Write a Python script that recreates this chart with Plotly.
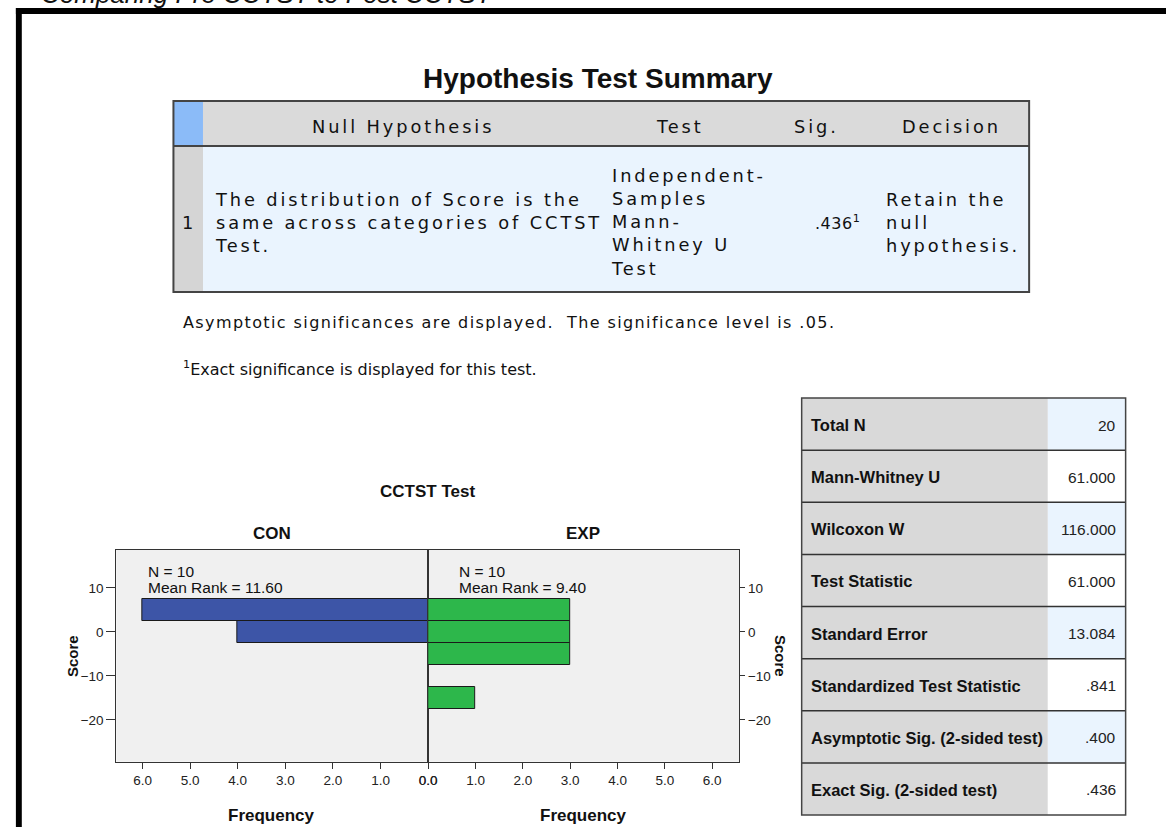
import plotly.graph_objects as go

W, H = 1175, 827

# ---------------- data ----------------
score_bins = [5, 0, -5, -10, -15]      # bin centres of Score
bin_width = 5
con_freq = [6, 4, 0, 0, 0]
exp_freq = [3, 3, 3, 0, 1]
groups = ["CON", "EXP"]
group_n = [10, 10]
group_mean_rank = [11.60, 9.40]
freq_ticks = [0, 1, 2, 3, 4, 5, 6]
score_ticks = [10, 0, -10, -20]

page_title = "Comparing Pre CCTST to Post CCTST"
hyp_title = "Hypothesis Test Summary"
hyp_headers = ["Null Hypothesis", "Test", "Sig.", "Decision"]
hyp_row_no = "1"
hyp_null = ["The distribution of Score is the", "same across categories of CCTST", "Test."]
hyp_test = ["Independent-", "Samples", "Mann-", "Whitney U", "Test"]
hyp_sig = ".436"
hyp_decision = ["Retain the", "null", "hypothesis."]
footnote_1 = "Asymptotic significances are displayed.  The significance level is .05."
footnote_2 = "Exact significance is displayed for this test."

stat_labels = ["Total N", "Mann-Whitney U", "Wilcoxon W", "Test Statistic",
               "Standard Error", "Standardized Test Statistic",
               "Asymptotic Sig. (2-sided test)", "Exact Sig. (2-sided test)"]
stat_values = ["20", "61.000", "116.000", "61.000", "13.084", ".841", ".400", ".436"]

# ---------------- helpers ----------------
def px(x):
    return x / W

def py(y):
    return 1 - y / H

PIX = "DejaVu Sans, Verdana, sans-serif"
ARIAL = "Liberation Sans, Arial, sans-serif"
TXT = "#111111"

def spaced(s, ls):
    return "<span style='letter-spacing:%spx'>%s</span>" % (ls, s)

annotations = []
shapes = []

def ann(text, x, y, size, family=ARIAL, xanchor="center", yanchor="middle",
        align="center", angle=0, color=TXT):
    annotations.append(dict(text=text, x=px(x), y=py(y), xref="paper", yref="paper",
                            showarrow=False, xanchor=xanchor, yanchor=yanchor,
                            align=align, textangle=angle,
                            font=dict(family=family, size=size, color=color)))

def rect(x0, y0, x1, y1, fill=None, line_color=None, lw=0):
    shapes.append(dict(type="rect", xref="paper", yref="paper",
                       x0=px(x0), x1=px(x1), y0=py(y1), y1=py(y0),
                       fillcolor=fill if fill else "rgba(0,0,0,0)",
                       line=dict(color=line_color if line_color else "rgba(0,0,0,0)", width=lw)))

def hline(x0, x1, y, color, lw):
    shapes.append(dict(type="line", xref="paper", yref="paper",
                       x0=px(x0), x1=px(x1), y0=py(y), y1=py(y),
                       line=dict(color=color, width=lw)))

# ---------------- page frame & title ----------------
rect(7, 8, 1175, 14, fill="black")
rect(7, 8, 13, 827, fill="black")
ann("<i>%s</i>" % page_title, 30, -6, 26, xanchor="left")

# ---------------- hypothesis table ----------------
ann("<b>%s</b>" % hyp_title, 598, 78, 28)
TL, TR, TT, THB, TB, NC = 167, 1036, 101, 146, 292, 197
rect(TL, TT, TR, THB, fill="#DADADA")
rect(TL, TT, NC, THB, fill="#8BBBF8")
rect(NC, THB, TR, TB, fill="#EAF4FE")
rect(TL, THB, NC, TB, fill="#D5D5D5")
hline(TL, TR, THB, "#444444", 2)
rect(TL, TT, TR, TB, line_color="#444444", lw=2)

LS = 2.9
FS = 17.8
header_x = [400, 681, 820, 957]
for h, hx in zip(hyp_headers, header_x):
    ann(spaced(h, LS), hx, 127, FS, family=PIX)

body_y = 222
ann(hyp_row_no, 181, body_y, FS, family=PIX)
ann("<br>".join(spaced(s, LS) for s in hyp_null), 207, body_y, FS, family=PIX,
    xanchor="left", align="left")
ann("<br>".join(spaced(s, LS) for s in hyp_test), 609, body_y, FS, family=PIX,
    xanchor="left", align="left")
ann(spaced(hyp_sig, 0.5) + "<sup>1</sup>", 866, body_y, FS * 0.9, family=PIX, xanchor="right")
ann("<br>".join(spaced(s, LS) for s in hyp_decision), 889, body_y, FS, family=PIX,
    xanchor="left", align="left")

ann(spaced(footnote_1, 1.4), 175, 323, 16, family=PIX, xanchor="left")
ann("<sup>1</sup>" + footnote_2, 175, 368, 16, family=PIX, xanchor="left")

# ---------------- statistics table ----------------
SL, SR, SM, ST, SB = 805, 1134, 1055, 398, 815
row_h = (SB - ST) / len(stat_labels)
for i, (lab, val) in enumerate(zip(stat_labels, stat_values)):
    y0 = ST + i * row_h
    y1 = y0 + row_h
    rect(SL, y0, SM, y1, fill="#D9D9D9")
    rect(SM, y0, SR, y1, fill="#EAF4FE" if i % 2 == 0 else "#FFFFFF")
for i in range(1, len(stat_labels)):
    hline(SL, SR, ST + i * row_h, "#333333", 1.5)
rect(SL, ST, SR, SB, line_color="#444444", lw=1.5)
for i, (lab, val) in enumerate(zip(stat_labels, stat_values)):
    yc = ST + (i + 0.5) * row_h + 1
    ann("<b>%s</b>" % lab, 812, yc, 16.5, xanchor="left")
    ann(val, 1126, yc, 15.5, xanchor="right", color="#222222")

# ---------------- population pyramid (histograms) ----------------
PL, PM, PR, PT, PB = 109, 425.7, 741.6, 550, 761.7

fig = go.Figure()
con_y = [b for b, f in zip(score_bins, con_freq) if f > 0]
con_x = [f for f in con_freq if f > 0]
exp_y = [b for b, f in zip(score_bins, exp_freq) if f > 0]
exp_x = [f for f in exp_freq if f > 0]
fig.add_trace(go.Bar(x=con_x, y=con_y, orientation="h", width=bin_width,
                     marker=dict(color="#3D55A7", line=dict(color="#1a1a1a", width=1)),
                     xaxis="x", yaxis="y", name=groups[0], showlegend=False,
                     hoverinfo="skip"))
fig.add_trace(go.Bar(x=exp_x, y=exp_y, orientation="h", width=bin_width,
                     marker=dict(color="#2DB74B", line=dict(color="#1a1a1a", width=1)),
                     xaxis="x2", yaxis="y2", name=groups[1], showlegend=False,
                     hoverinfo="skip"))

tickfont = dict(family=ARIAL, size=13.5, color="#222222")
xcommon = dict(tickvals=freq_ticks, ticktext=["%.1f" % t for t in freq_ticks],
               ticks="outside", ticklen=6, tickcolor="#333333", tickfont=tickfont,
               showline=True, linecolor="#333333", linewidth=1, mirror=True,
               showgrid=False, zeroline=False, fixedrange=True)
ycommon = dict(range=[-29.5, 18.6], tickvals=score_ticks, ticks="outside",
               tickcolor="#333333", tickfont=tickfont, showline=True,
               linecolor="#333333", linewidth=1, mirror=True,
               showgrid=False, zeroline=False, fixedrange=True,
               domain=[py(PB), py(PT)])

fig.update_layout(
    width=W, height=H, autosize=False,
    margin=dict(l=0, r=0, t=0, b=0),
    paper_bgcolor="white", plot_bgcolor="#F0F0F0",
    bargap=0,
    xaxis=dict(domain=[px(PL), px(PM)], range=[6.55, 0], anchor="y", **xcommon),
    xaxis2=dict(domain=[px(PM), px(PR)], range=[0, 6.57], anchor="y2", **xcommon),
    yaxis=dict(anchor="x", side="left", ticklen=9, **ycommon),
    yaxis2=dict(anchor="x2", side="right", ticklen=5, **ycommon),
)

ann("<b>CCTST Test</b>", 425, 491.5, 17)
ann("<b>%s</b>" % groups[0], 267, 533, 17)
ann("<b>%s</b>" % groups[1], 583, 533, 17)
for lx, n, mr in zip([139, 455], group_n, group_mean_rank):
    ann("N = %d" % n, lx, 571, 15.5, xanchor="left")
    ann("Mean Rank = %.2f" % mr, lx, 587.5, 15.5, xanchor="left")
ann("<b>Frequency</b>", 267, 815, 17)
ann("<b>Frequency</b>", 583, 815, 17)
ann("<b>Score</b>", 64, 656, 15, angle=-90)
ann("<b>Score</b>", 784, 656, 15, angle=90)

fig.update_layout(shapes=shapes, annotations=annotations)
fig.write_html(
    "out.html",
    config={"displayModeBar": False, "responsive": False},
    post_script=("document.documentElement.style.margin='0';"
                 "document.documentElement.style.overflow='hidden';"
                 "document.body.style.margin='0';"
                 "document.body.style.padding='0';"
                 "document.body.style.overflow='hidden';"),
)
